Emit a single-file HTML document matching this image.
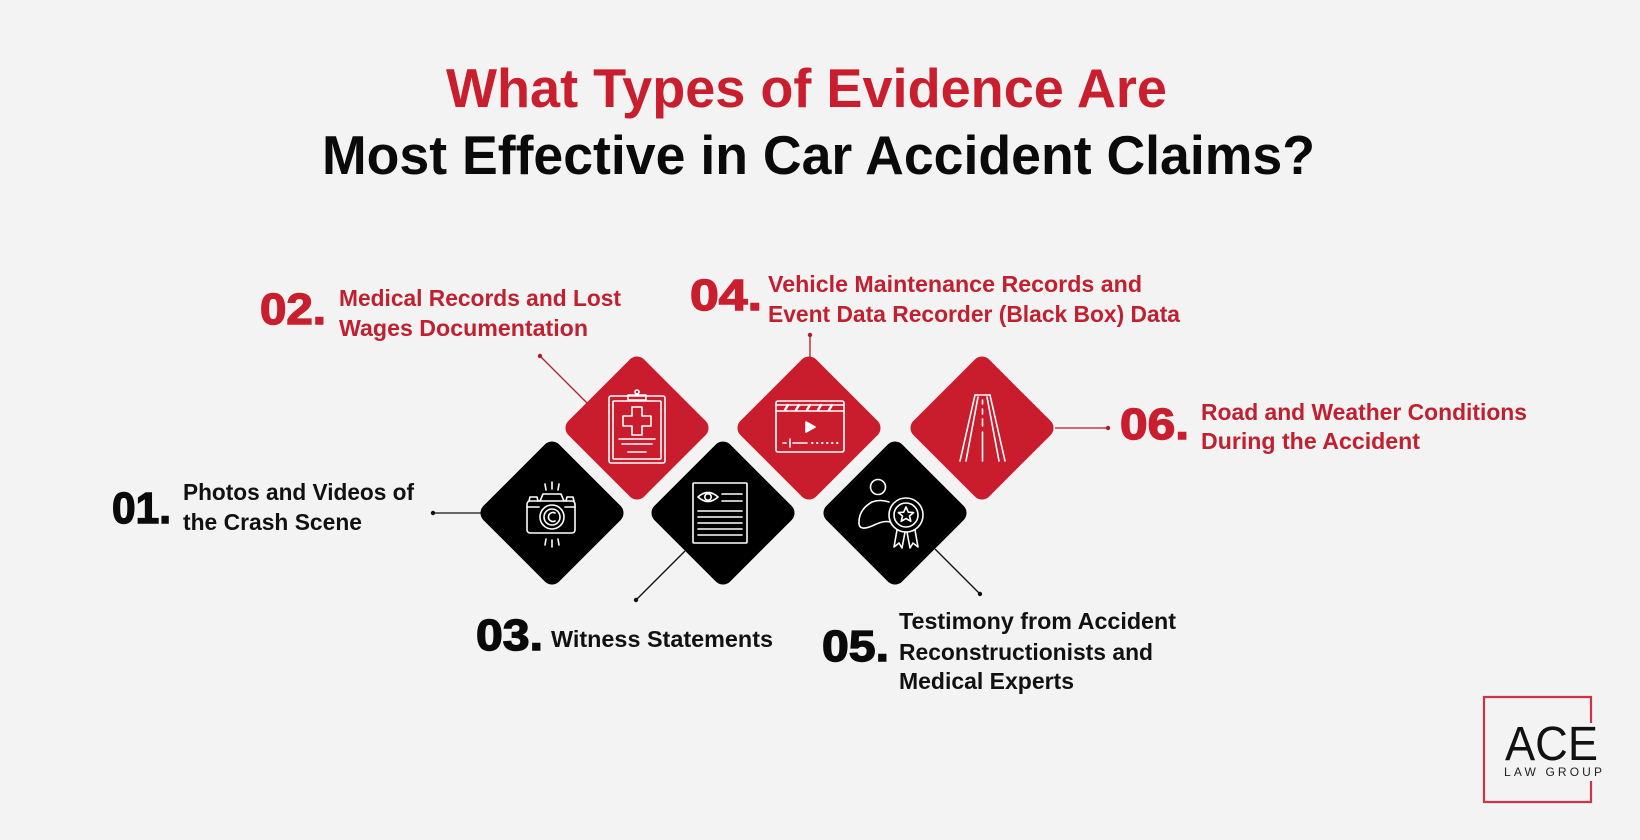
<!DOCTYPE html>
<html>
<head>
<meta charset="utf-8">
<style>
  html,body{margin:0;padding:0;background:#f3f3f3;}
  svg{display:block;}
  text{font-family:"Liberation Sans",Arial,sans-serif;}
</style>
</head>
<body>
<svg width="1640" height="840" viewBox="0 0 1640 840" xmlns="http://www.w3.org/2000/svg">
  <rect x="0" y="0" width="1640" height="840" fill="#f3f3f3"/>

  <!-- Title -->
  <text x="446" y="107" font-size="55" font-weight="bold" fill="#c81e2e" textLength="721" lengthAdjust="spacingAndGlyphs">What Types of Evidence Are</text>
  <text x="322" y="174" font-size="55" font-weight="bold" fill="#0a0a0a" textLength="993" lengthAdjust="spacingAndGlyphs">Most Effective in Car Accident Claims?</text>

  <!-- Connectors -->
  <g stroke-width="1.3" fill="none">
    <line x1="540" y1="356" x2="587" y2="403" stroke="#b01c2a"/>
    <line x1="810" y1="335" x2="810" y2="358" stroke="#b01c2a"/>
    <line x1="1055" y1="428" x2="1108" y2="428" stroke="#b01c2a"/>
    <line x1="433" y1="513" x2="481" y2="513" stroke="#111"/>
    <line x1="636" y1="600" x2="685" y2="551" stroke="#111"/>
    <line x1="980" y1="594" x2="935" y2="549" stroke="#111"/>
  </g>
  <circle cx="540" cy="356" r="2.2" fill="#b01c2a"/>
  <circle cx="810" cy="335" r="2.2" fill="#b01c2a"/>
  <circle cx="1108" cy="428" r="2.2" fill="#b01c2a"/>
  <circle cx="433" cy="513" r="2.2" fill="#111"/>
  <circle cx="636" cy="600" r="2.2" fill="#111"/>
  <circle cx="980" cy="594" r="2.2" fill="#111"/>

  <!-- Diamonds -->
  <g>
    <rect x="-53.5" y="-53.5" width="107" height="107" rx="10" fill="#c91d2e" transform="translate(637,428) rotate(45)"/>
    <rect x="-53.5" y="-53.5" width="107" height="107" rx="10" fill="#c91d2e" transform="translate(809,428) rotate(45)"/>
    <rect x="-53.5" y="-53.5" width="107" height="107" rx="10" fill="#c91d2e" transform="translate(982,428) rotate(45)"/>
    <rect x="-53.5" y="-53.5" width="107" height="107" rx="10" fill="#000" transform="translate(552,513) rotate(45)"/>
    <rect x="-53.5" y="-53.5" width="107" height="107" rx="10" fill="#000" transform="translate(723,513) rotate(45)"/>
    <rect x="-53.5" y="-53.5" width="107" height="107" rx="10" fill="#000" transform="translate(895,513) rotate(45)"/>
  </g>

  <!-- Icons -->
  <g stroke="#ffffff" stroke-width="1.6" fill="none" stroke-linecap="round" stroke-linejoin="round">
    <!-- Camera (01) -->
    <rect x="527" y="501" width="48" height="32" rx="3"/>
    <path d="M540 501 L543 494 L561 494 L564 501"/>
    <path d="M529 501 L530 497 L537 497 L538 501"/>
    <path d="M566 501 L567 497 L573 497 L574 501"/>
    <line x1="527" y1="507" x2="539" y2="507"/>
    <line x1="565" y1="507" x2="575" y2="507"/>
    <circle cx="552" cy="517" r="12"/>
    <circle cx="552" cy="517" r="8"/>
    <path d="M555 513 A4.5 4.5 0 1 0 555 521"/>
    <line x1="545" y1="484" x2="546" y2="490"/>
    <line x1="552" y1="482" x2="552" y2="489"/>
    <line x1="559" y1="484" x2="558" y2="490"/>
    <line x1="545" y1="545" x2="546" y2="539"/>
    <line x1="552" y1="547" x2="552" y2="540"/>
    <line x1="559" y1="545" x2="558" y2="539"/>

    <!-- Clipboard (02) -->
    <rect x="609" y="396" width="56" height="67" rx="2"/>
    <rect x="613" y="401" width="48" height="58" rx="1"/>
    <path d="M628 400 L628 395 L646 395 L646 400 Z"/>
    <circle cx="637" cy="392" r="2"/>
    <path d="M632 407 L642 407 L642 416 L651 416 L651 426 L642 426 L642 435 L632 435 L632 426 L623 426 L623 416 L632 416 Z"/>
    <line x1="619" y1="439" x2="655" y2="439"/>
    <line x1="622" y1="444" x2="652" y2="444"/>
    <line x1="628" y1="452" x2="646" y2="452"/>

    <!-- Video (04) -->
    <rect x="776" y="401" width="68" height="51" rx="2"/>
    <line x1="776" y1="411" x2="844" y2="411"/>
    <line x1="776" y1="405" x2="844" y2="405"/>
    <g stroke-width="2.4">
      <line x1="785" y1="410" x2="788" y2="405"/>
      <line x1="796" y1="410" x2="799" y2="405"/>
      <line x1="807" y1="410" x2="810" y2="405"/>
      <line x1="818" y1="410" x2="821" y2="405"/>
      <line x1="829" y1="410" x2="832" y2="405"/>
    </g>
    <path d="M806 422 L815 427 L806 432 Z" fill="#fff"/>
    <line x1="783" y1="443" x2="786" y2="443"/>
    <line x1="790" y1="439" x2="790" y2="447"/>
    <line x1="793" y1="443" x2="807" y2="443"/>
    <path d="M812 443 h0.5 M817 443 h0.5 M822 443 h0.5 M827 443 h0.5 M832 443 h0.5 M837 443 h0.5" stroke-width="2"/>

    <!-- Document with eye (03) -->
    <rect x="693" y="483" width="54" height="60" rx="1"/>
    <path d="M698 497 Q708 488 718 497 Q708 506 698 497 Z"/>
    <circle cx="708" cy="497" r="3.2"/>
    <line x1="722" y1="494" x2="742" y2="494"/>
    <line x1="722" y1="501" x2="742" y2="501"/>
    <line x1="698" y1="511" x2="742" y2="511"/>
    <line x1="698" y1="517" x2="742" y2="517"/>
    <line x1="698" y1="523" x2="742" y2="523"/>
    <line x1="698" y1="529" x2="742" y2="529"/>
    <line x1="698" y1="535" x2="742" y2="535"/>

    <!-- Person + award (05) -->
    <circle cx="878" cy="487" r="7.5"/>
    <path d="M890 522 Q884 520 872 526 Q860 531 859 524 Q858 510 872 502 Q880 499 889 502"/>
    <circle cx="906" cy="515" r="17"/>
    <circle cx="906" cy="515" r="12"/>
    <path d="M906 507 L908.3 512.2 L913.6 512.6 L909.5 516 L910.8 521.3 L906 518.5 L901.2 521.3 L902.5 516 L898.4 512.6 L903.7 512.2 Z"/>
    <path d="M897 530 L894 547 L899 543 L902 548 L905 532"/>
    <path d="M915 530 L918 547 L913 543 L910 548 L907 532"/>

    <!-- Road (06) -->
    <line x1="960" y1="461" x2="975" y2="395"/>
    <line x1="966" y1="461" x2="978" y2="397"/>
    <line x1="1005" y1="461" x2="990" y2="395"/>
    <line x1="999" y1="461" x2="987" y2="397"/>
    <line x1="975" y1="395" x2="990" y2="395"/>
    <line x1="982.5" y1="400" x2="982.5" y2="404"/>
    <line x1="982.5" y1="409" x2="982.5" y2="414"/>
    <line x1="982.5" y1="419" x2="982.5" y2="426"/>
    <line x1="982.5" y1="432" x2="982.5" y2="461"/>
  </g>

  <!-- 01 -->
  <text x="112" y="523" font-size="44" font-weight="bold" fill="#0a0a0a" stroke="#0a0a0a" stroke-width="1.4" textLength="59" lengthAdjust="spacingAndGlyphs">01.</text>
  <text x="183" y="500" font-size="23" font-weight="bold" fill="#111" textLength="231" lengthAdjust="spacingAndGlyphs">Photos and Videos of</text>
  <text x="183" y="530" font-size="23" font-weight="bold" fill="#111" textLength="179" lengthAdjust="spacingAndGlyphs">the Crash Scene</text>

  <!-- 02 -->
  <text x="260" y="324" font-size="44" font-weight="bold" fill="#c81e2e" stroke="#c81e2e" stroke-width="1.4" textLength="66" lengthAdjust="spacingAndGlyphs">02.</text>
  <text x="339" y="306" font-size="23" font-weight="bold" fill="#c02030" textLength="282" lengthAdjust="spacingAndGlyphs">Medical Records and Lost</text>
  <text x="339" y="336" font-size="23" font-weight="bold" fill="#c02030" textLength="249" lengthAdjust="spacingAndGlyphs">Wages Documentation</text>

  <!-- 03 -->
  <text x="476" y="650" font-size="44" font-weight="bold" fill="#0a0a0a" stroke="#0a0a0a" stroke-width="1.4" textLength="67" lengthAdjust="spacingAndGlyphs">03.</text>
  <text x="551" y="647" font-size="23" font-weight="bold" fill="#111" textLength="222" lengthAdjust="spacingAndGlyphs">Witness Statements</text>

  <!-- 04 -->
  <text x="690" y="310" font-size="44" font-weight="bold" fill="#c81e2e" stroke="#c81e2e" stroke-width="1.4" textLength="72" lengthAdjust="spacingAndGlyphs">04.</text>
  <text x="768" y="292" font-size="23" font-weight="bold" fill="#c02030" textLength="374" lengthAdjust="spacingAndGlyphs">Vehicle Maintenance Records and</text>
  <text x="768" y="322" font-size="23" font-weight="bold" fill="#c02030" textLength="412" lengthAdjust="spacingAndGlyphs">Event Data Recorder (Black Box) Data</text>

  <!-- 05 -->
  <text x="822" y="661" font-size="44" font-weight="bold" fill="#0a0a0a" stroke="#0a0a0a" stroke-width="1.4" textLength="67" lengthAdjust="spacingAndGlyphs">05.</text>
  <text x="899" y="629" font-size="23" font-weight="bold" fill="#111" textLength="277" lengthAdjust="spacingAndGlyphs">Testimony from Accident</text>
  <text x="899" y="660" font-size="23" font-weight="bold" fill="#111" textLength="254" lengthAdjust="spacingAndGlyphs">Reconstructionists and</text>
  <text x="899" y="689" font-size="23" font-weight="bold" fill="#111" textLength="175" lengthAdjust="spacingAndGlyphs">Medical Experts</text>

  <!-- 06 -->
  <text x="1120" y="439" font-size="44" font-weight="bold" fill="#c81e2e" stroke="#c81e2e" stroke-width="1.4" textLength="69" lengthAdjust="spacingAndGlyphs">06.</text>
  <text x="1201" y="420" font-size="23" font-weight="bold" fill="#c02030" textLength="326" lengthAdjust="spacingAndGlyphs">Road and Weather Conditions</text>
  <text x="1201" y="449" font-size="23" font-weight="bold" fill="#c02030" textLength="219" lengthAdjust="spacingAndGlyphs">During the Accident</text>

  <!-- Logo -->
  <path d="M1591 723 L1591 697 L1484 697 L1484 802 L1591 802 L1591 781" stroke="#c8364a" stroke-width="2.2" fill="none"/>
  <text x="1505" y="760" font-size="48" font-weight="normal" fill="#111" textLength="93" lengthAdjust="spacingAndGlyphs">ACE</text>
  <text x="1504" y="776" font-size="12" font-weight="normal" fill="#222" textLength="98" lengthAdjust="spacing">LAW GROUP</text>
</svg>
</body>
</html>
